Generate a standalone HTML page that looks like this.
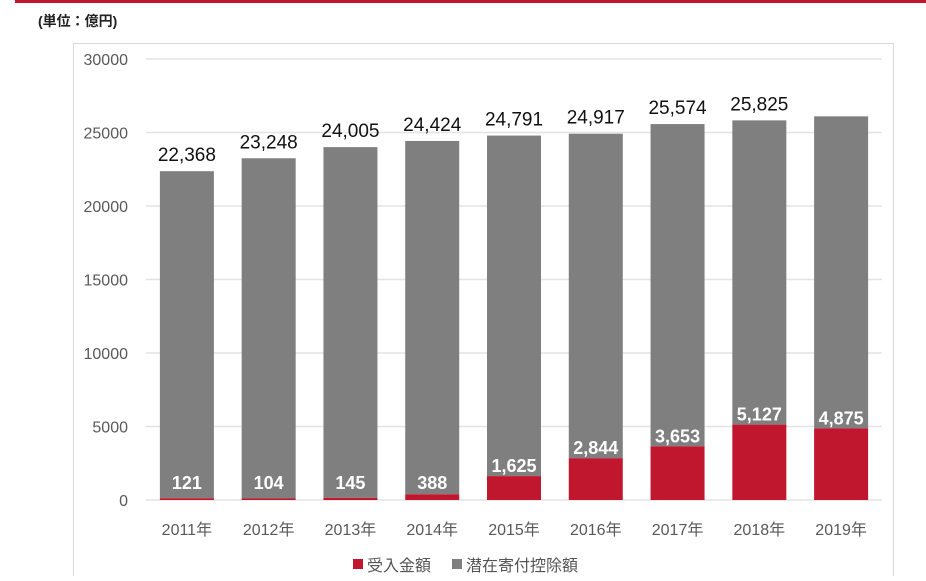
<!DOCTYPE html>
<html><head><meta charset="utf-8"><style>
body{margin:0;width:926px;height:576px;background:#fff;overflow:hidden;font-family:"Liberation Sans","Noto Sans CJK JP",sans-serif;}
</style></head><body>
<svg width="926" height="576" xmlns="http://www.w3.org/2000/svg">
<rect x="15" y="0" width="911" height="3" fill="#c0172f"/>
<text x="38" y="26" font-size="14" font-weight="bold" fill="#222" font-family="Liberation Sans,Noto Sans CJK JP,sans-serif">(単位：億円)</text>
<rect x="73.5" y="43.5" width="820" height="560" fill="none" stroke="#d9d9d9"/>
<g id="grid"></g><g id="bars"></g><g id="labels"></g>
<g font-size="16" fill="#555" font-family="Liberation Sans,Noto Sans CJK JP,sans-serif">
<rect x="353" y="559" width="10" height="10" fill="#c0172f"/>
<text x="367" y="571">受入金額</text>
<rect x="452" y="559" width="10" height="10" fill="#7f7f7f"/>
<text x="466" y="571">潜在寄付控除額</text>
</g>
</svg>
<script>
const categories=["2011年","2012年","2013年","2014年","2015年","2016年","2017年","2018年","2019年"];
const totals=[22368,23248,24005,24424,24791,24917,25574,25825,26100];
const totalLabels=["22,368","23,248","24,005","24,424","24,791","24,917","25,574","25,825",""];
const received=[121,104,145,388,1625,2844,3653,5127,4875];
const receivedLabels=["121","104","145","388","1,625","2,844","3,653","5,127","4,875"];
const yTicks=[0,5000,10000,15000,20000,25000,30000];
const NS="http://www.w3.org/2000/svg";
const y0=500,yTop=59,ymax=30000,px0=146,px1=882,bw=54;
const y=v=>y0-(v/ymax)*(y0-yTop);
const step=(px1-px0)/categories.length;
const xc=i=>px0+step*(i+0.5);
function mk(tag,attrs,parent,txt){const e=document.createElementNS(NS,tag);for(const k in attrs)e.setAttribute(k,attrs[k]);if(txt!==undefined)e.textContent=txt;parent.appendChild(e);return e;}
const grid=document.getElementById('grid'),bars=document.getElementById('bars'),labels=document.getElementById('labels');
yTicks.forEach(t=>{
 const l=mk('line',{x1:px0,x2:px1,y1:y(t),y2:y(t),stroke:'#e3e3e3','stroke-width':1.5},grid);
 
 
 const tx=mk('text',{x:128,y:y(t)+6,'text-anchor':'end','font-size':16,fill:'#595959'},grid,String(t));
 
 
});
categories.forEach((c,i)=>{
 const x=xc(i)-bw/2;
 const g=mk('rect',{x:x,y:y(totals[i]),width:bw,height:y(received[i])-y(totals[i]),fill:'#7f7f7f'},bars);
 
 
 const r=mk('rect',{x:x,y:y(received[i]),width:bw,height:y0-y(received[i]),fill:'#c0172f'},bars);
 
 
 if(totalLabels[i]){
  const t=mk('text',{x:xc(i),y:y(totals[i])-10,'text-anchor':'middle','font-size':19,fill:'#111'},labels,totalLabels[i]);
  
  
 }
 const ly=Math.min(y(received[i])-11,482);
 const rl=mk('text',{x:xc(i),y:ly+7,'text-anchor':'middle','font-size':18,'font-weight':'bold',fill:'#fff'},labels,receivedLabels[i]);
 
 
 const xl=mk('text',{x:xc(i),y:535,'text-anchor':'middle','font-size':16,fill:'#595959'},labels,c);
 
 
});
</script>
</body></html>
